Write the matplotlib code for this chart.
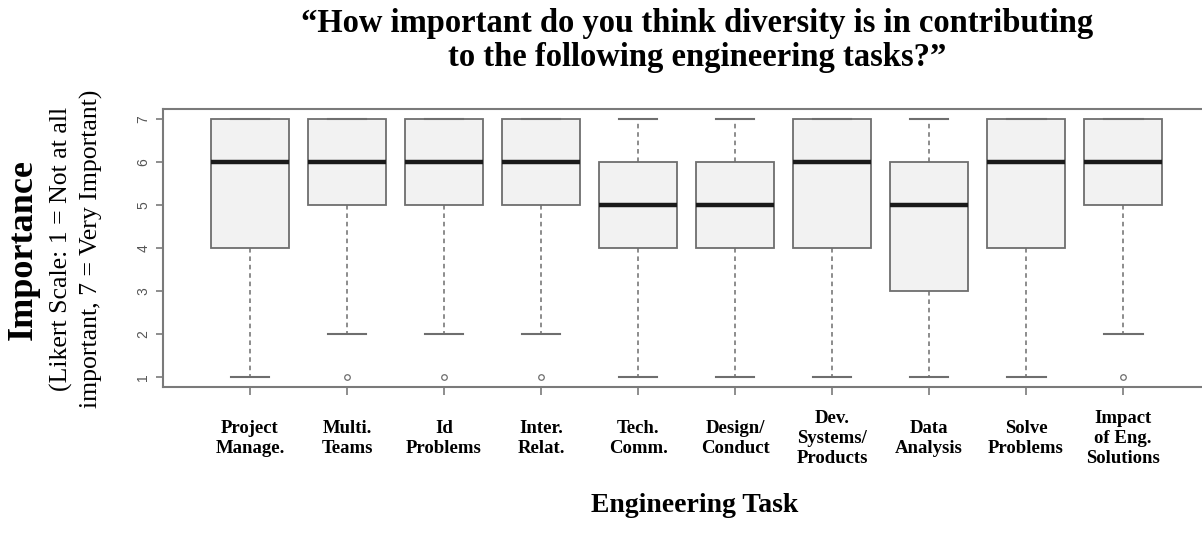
import matplotlib.pyplot as plt

#---datos-------------------------------------------------------------
tasks = ['Project\nManage.', 'Multi.\nTeams', 'Id\nProblems', 'Inter.\nRelat.',
         'Tech.\nComm.', 'Design/\nConduct', 'Dev.\nSystems/\nProducts',
         'Data\nAnalysis', 'Solve\nProblems', 'Impact\nof Eng.\nSolutions']
q1 = [4, 5, 5, 5, 4, 4, 4, 3, 4, 5]
med = [6, 6, 6, 6, 5, 5, 6, 5, 6, 6]
q3 = [7, 7, 7, 7, 6, 6, 7, 6, 7, 7]
whislo = [1, 2, 2, 2, 1, 1, 1, 1, 1, 2]
whishi = [7, 7, 7, 7, 7, 7, 7, 7, 7, 7]
outliers = [[], [1], [1], [1], [], [], [], [], [], [1]]

stats = [dict(q1=a, med=b, q3=c, whislo=d, whishi=e, fliers=f)
         for a, b, c, d, e, f in zip(q1, med, q3, whislo, whishi, outliers)]

#---figura------------------------------------------------------------
fig = plt.figure(figsize=(12.02, 5.33), dpi=100)
ax = fig.add_axes([0.1354, 0.2739, 0.8716, 0.5216])

gris = '#6e6e6e'
ax.bxp(stats, positions=range(1, 11), widths=0.8, patch_artist=True,
       showfliers=True,
       boxprops=dict(facecolor='#f2f2f2', edgecolor=gris, linewidth=1.3),
       medianprops=dict(color='#1a1a1a', linewidth=3.2, solid_capstyle='butt'),
       whiskerprops=dict(color=gris, linewidth=1.1, linestyle=(0, (3, 2.5))),
       capprops=dict(color=gris, linewidth=1.5),
       capwidths=0.4,
       flierprops=dict(marker='o', markersize=4, markerfacecolor='none',
                       markeredgecolor=gris, markeredgewidth=0.9))

ax.set_xlim(0.1, 10.9)
ax.set_ylim(0.76, 7.24)
for s in ax.spines.values():
    s.set_color('#7a7a7a')
    s.set_linewidth(1.5)

ax.set_yticks(range(1, 8))
ax.set_yticklabels([str(i) for i in range(1, 8)], rotation=90, va='center',
                   fontsize=10, color='#555555', family='Liberation Sans')
ax.tick_params(axis='y', length=5, width=1.2, color='#7a7a7a', pad=4)

ax.set_xticks(range(1, 11))
ax.set_xticklabels(tasks, family='Liberation Serif', fontweight='bold',
                   fontsize=13.5, linespacing=1.23, va='center', ha='center')
ax.tick_params(axis='x', length=6, width=1.2, color='#7a7a7a', pad=31)

#---textos------------------------------------------------------------
fig.text(0.580, 0.924,
         '\u201cHow important do you think diversity is in contributing\n'
         'to the following engineering tasks?\u201d',
         ha='center', va='center', family='Liberation Serif',
         fontweight='bold', fontsize=23.5, linespacing=1.1)
fig.text(0.578, 0.052, 'Engineering Task', ha='center', va='center',
         family='Liberation Serif', fontweight='bold', fontsize=20)
fig.text(0.019, 0.531, 'Importance', rotation=90, ha='center', va='center',
         family='Liberation Serif', fontweight='bold', fontsize=26)
fig.text(0.064, 0.533,
         '(Likert Scale: 1 = Not at all\nimportant, 7 = Very Important)',
         rotation=90, ha='center', va='center', family='Liberation Serif',
         fontsize=18.5, linespacing=1.39)

plt.savefig('out.png', dpi=100)
